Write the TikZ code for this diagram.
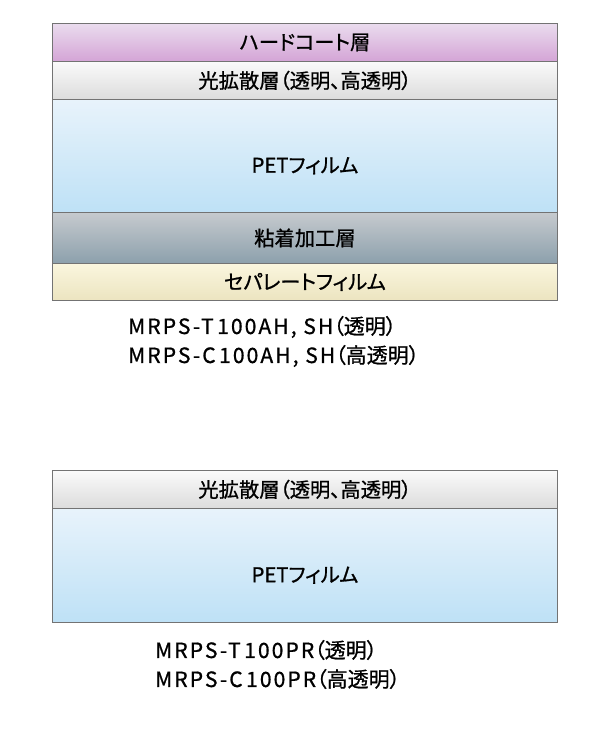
\documentclass[tikz,border=0pt]{standalone}
\usepackage{fontspec}
\setmainfont{Noto Sans CJK JP}[RawFeature=+palt,FakeBold=0.9]
\newfontfamily\latsp{Noto Sans CJK JP}[LetterSpace=10,FakeBold=0.9]
\begin{document}
\begin{tikzpicture}[x=1pt,y=-1pt,
  layer/.style={draw=black!55,line width=0.9pt,rectangle,inner sep=0pt,minimum width=505pt,anchor=north west,font=\fontsize{20.3}{22}\selectfont},
  petlayer/.style={layer,minimum height=#1,text height=36pt,text depth=2.5pt,top color={rgb,255:red,232;green,243;blue,251},bottom color={rgb,255:red,190;green,225;blue,246}},
  lbl/.style={anchor=west,inner sep=0pt,font=\fontsize{21}{23}\selectfont}]
\useasboundingbox (0,0) rectangle (600,752);
\fill[white] (0,0) rectangle (600,752);
% top stack
\node[layer,minimum height=38pt,top color={rgb,255:red,234;green,220;blue,238},bottom color={rgb,255:red,212;green,164;blue,214}] (hc) at (52,23) {ハードコート層};
\node[layer,minimum height=38pt,top color={rgb,255:red,250;green,250;blue,250},bottom color={rgb,255:red,220;green,220;blue,220}] (ld1) at (52,61) {光拡散層（透明、高透明）};
\node[petlayer=113pt] (pet1) at (52,99) {PETフィルム};
\node[layer,minimum height=51pt,top color={rgb,255:red,198;green,202;blue,206},bottom color={rgb,255:red,140;green,160;blue,172}] (adh) at (52,212) {粘着加工層};
\node[layer,minimum height=37pt,top color={rgb,255:red,250;green,246;blue,222},bottom color={rgb,255:red,236;green,228;blue,192}] (sep) at (52,263) {セパレートフィルム};
\node[lbl] (t1) at (128,327) {{\latsp MRPS-T\,100AH, SH}（透明）};
\node[lbl] (t2) at (128,356) {{\latsp MRPS-C\,100AH, SH}（高透明）};
% bottom stack
\node[layer,minimum height=38pt,top color={rgb,255:red,250;green,250;blue,250},bottom color={rgb,255:red,220;green,220;blue,220}] (ld2) at (52,470) {光拡散層（透明、高透明）};
\node[petlayer=114pt] (pet2) at (52,508) {PETフィルム};
\node[lbl] (b1) at (155,650) {{\latsp MRPS-T\,100PR}（透明）};
\node[lbl] (b2) at (155,679) {{\latsp MRPS-C\,100PR}（高透明）};
\end{tikzpicture}
\end{document}
